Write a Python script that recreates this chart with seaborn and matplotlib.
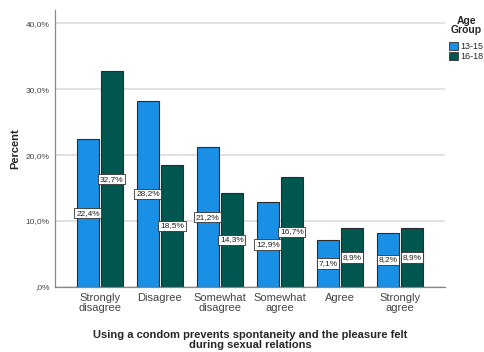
import matplotlib
matplotlib.use("Agg")
import matplotlib.pyplot as plt
from matplotlib.patches import Patch
from matplotlib.ticker import FuncFormatter
import seaborn as sns
import pandas as pd

categories = ["Strongly\ndisagree", "Disagree", "Somewhat\ndisagree",
              "Somewhat\nagree", "Agree", "Strongly\nagree"]
groups = ["13-15", "16-18"]
pct_13_15 = [22.4, 28.2, 21.2, 12.9, 7.1, 8.2]
pct_16_18 = [32.7, 18.5, 14.3, 16.7, 8.9, 8.9]
colors = ["#1a8fe6", "#00574f"]

df = pd.DataFrame({
    "response": categories * 2,
    "group": [groups[0]] * len(categories) + [groups[1]] * len(categories),
    "percent": pct_13_15 + pct_16_18,
})

sns.set_style("white")
plt.rcParams["font.family"] = ["Liberation Sans", "DejaVu Sans"]

fig = plt.figure(figsize=(4.84, 3.52), dpi=100)
ax = fig.add_axes([0.1136, 0.1847, 0.8054, 0.7869])

sns.barplot(data=df, x="response", y="percent", hue="group", order=categories,
            hue_order=groups, palette=colors, saturation=1, width=0.8, gap=0.08,
            edgecolor="#2a2a2a", linewidth=0.8, ax=ax, legend=False, errorbar=None)

for container in ax.containers:
    labels = [f"{v:.1f}%".replace(".", ",") for v in container.datavalues]
    ax.bar_label(container, labels=labels, label_type="center", fontsize=6,
                 color="#222222",
                 bbox=dict(boxstyle="square,pad=0.2", fc="white", ec="#333333", lw=0.6))

ax.set_xlim(-0.75, 5.75)
ax.set_ylim(0, 42)
ax.set_yticks([0, 10, 20, 30, 40])
ax.yaxis.set_major_formatter(FuncFormatter(
    lambda v, _: ",0%" if v == 0 else f"{v:.1f}%".replace(".", ",")))
ax.grid(axis="y", color="#dddddd", linewidth=1.2)
ax.set_axisbelow(True)
for s in ["top", "right"]:
    ax.spines[s].set_visible(False)
for s in ["left", "bottom"]:
    ax.spines[s].set_color("#888888")
    ax.spines[s].set_linewidth(0.9)

ax.tick_params(axis="y", labelsize=6, colors="#444444", length=0, pad=4)
ax.tick_params(axis="x", labelsize=8, colors="#444444", length=0, pad=4)
for t in ax.get_xticklabels():
    t.set_linespacing(1.1)

ax.set_ylabel("Percent", fontsize=8, fontweight="bold", labelpad=4)
ax.set_xlabel("Using a condom prevents spontaneity and the pleasure felt\nduring sexual relations",
              fontsize=8, fontweight="bold", labelpad=12, linespacing=1.0)

handles = [Patch(facecolor=c, edgecolor="#333333", linewidth=0.6) for c in colors]
leg = fig.legend(handles, groups, title="Age\nGroup", loc="upper left",
                 bbox_to_anchor=(0.928, 0.955), frameon=False, fontsize=6.5,
                 title_fontproperties={"weight": "bold", "size": 7.5},
                 handlelength=1.0, handleheight=1.0, handletextpad=0.2,
                 labelspacing=0.1, borderpad=0.0, borderaxespad=0.0)
leg.get_title().set_multialignment("center")
leg.get_title().set_linespacing(0.9)
leg._legend_box.sep = 5

fig.savefig("out.png", dpi=100)
